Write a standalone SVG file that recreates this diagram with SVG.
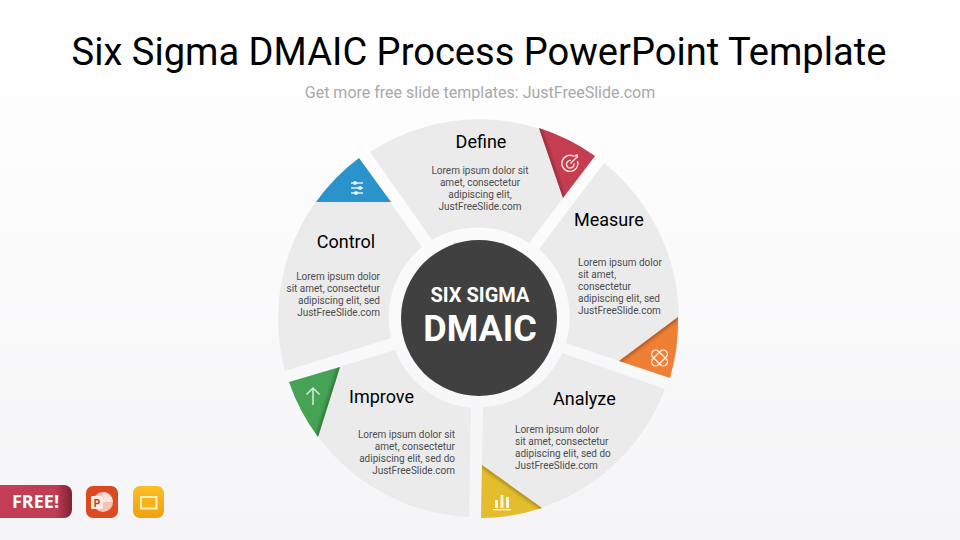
<svg xmlns="http://www.w3.org/2000/svg" width="960" height="540" viewBox="0 0 960 540">
<defs>
<linearGradient id="bg" x1="0" y1="0" x2="0" y2="1"><stop offset="0" stop-color="#ffffff"/><stop offset="0.35" stop-color="#fcfcfd"/><stop offset="1" stop-color="#f5f5f7"/></linearGradient>
<linearGradient id="free" x1="0" y1="0" x2="1" y2="0"><stop offset="0" stop-color="#c43f55"/><stop offset="0.8" stop-color="#c03c52"/><stop offset="1" stop-color="#7e2233"/></linearGradient>
<linearGradient id="slides" x1="0" y1="0" x2="0" y2="1"><stop offset="0" stop-color="#fbbf24"/><stop offset="1" stop-color="#f29f12"/></linearGradient>
<filter id="soft" x="-30%" y="-30%" width="160%" height="160%"><feGaussianBlur stdDeviation="1.5"/></filter>
<clipPath id="cRed"><path d="M539,128A200,200 0 0 1 595,156L563,198Z"/></clipPath>
<clipPath id="cOrange"><path d="M678,317A200,200 0 0 1 670,378L619,361Z"/></clipPath>
<clipPath id="cYellow"><path d="M482,465L542,508A200,200 0 0 1 481,518Z"/></clipPath>
<clipPath id="cGreen"><path d="M340,367L289,382A200,200 0 0 0 318,437Z"/></clipPath>
<clipPath id="cBlue"><path d="M359,158L391,202H316A200,200 0 0 1 359,158Z"/></clipPath>
</defs>
<style>
text{font-family:Roboto,"Liberation Sans",sans-serif}
.seg{fill:#ebebec}
.h{font-size:18px;fill:#000}
.b{font-size:10px;fill:#4d4d4d}
.m{text-anchor:middle}.e{text-anchor:end}
.edge{fill:none;stroke-width:5;stroke-opacity:.55;filter:url(#soft)}
.ic{fill:none;stroke:#fff;stroke-opacity:.85;stroke-width:1.400}
</style>
<rect width="960" height="540" fill="url(#bg)"/>
<text x="479" y="65" class="m" font-size="38.100" fill="#000" id="title">Six Sigma DMAIC Process PowerPoint Template</text>
<text x="480" y="98" class="m" font-size="16" fill="#a9a9a9">Get more free slide templates: JustFreeSlide.com</text>

<g id="define">
<path class="seg" d="M370,152A200,200 0 0 1 595,156L529,243A91,91 0 0 0 432,240Z"/>
<path d="M539,128A200,200 0 0 1 595,156L563,198Z" fill="#c53e50"/>
<path class="edge" clip-path="url(#cRed)" d="M539,128L563,198" stroke="#7a1f2e"/>
<g class="ic"><path d="M574,156.500A8,8 0 1 0 577.500,161"/><path d="M571,160.500A3.800,3.800 0 1 0 574,163.500"/><path d="M570.500,163.500L576,158M574.500,156L577,155L577.500,157L576,158"/></g>
<text class="h m" x="481" y="148">Define</text>
<g class="b m"><text x="480" y="174">Lorem ipsum dolor sit</text><text x="480" y="186">amet, consectetur</text><text x="480" y="198">adipiscing elit,</text><text x="480" y="210">JustFreeSlide.com</text></g>
</g>

<g id="measure">
<path class="seg" d="M604,163A200,200 0 0 1 670,378L566,343A91,91 0 0 0 539,249Z"/>
<path d="M678,317A200,200 0 0 1 670,378L619,361Z" fill="#ee7f35"/>
<path class="edge" clip-path="url(#cOrange)" d="M678,317L619,361" stroke="#8a4515"/>
<g class="ic"><rect x="650" y="354" width="19" height="8" rx="4" transform="rotate(45 659.500 358)"/><rect x="650" y="354" width="19" height="8" rx="4" transform="rotate(-45 659.500 358)"/></g>
<text class="h" x="574" y="226">Measure</text>
<g class="b"><text x="578" y="266">Lorem ipsum dolor</text><text x="578" y="278">sit amet,</text><text x="578" y="290">consectetur</text><text x="578" y="302">adipiscing elit, sed</text><text x="578" y="314">JustFreeSlide.com</text></g>
</g>

<g id="analyze">
<path class="seg" d="M665,389A200,200 0 0 1 481,518L483,407A91,91 0 0 0 562,353Z"/>
<path d="M482,465L542,508A200,200 0 0 1 481,518Z" fill="#e3bd2e"/>
<path class="edge" clip-path="url(#cYellow)" d="M482,465L542,508" stroke="#8a7010"/>
<g fill="#fff" fill-opacity=".85"><rect x="495" y="500" width="3" height="8"/><rect x="500.500" y="495" width="3" height="13"/><rect x="506" y="497" width="3" height="11"/><rect x="493" y="509" width="18" height="1.300"/></g>
<text class="h" x="553" y="405">Analyze</text>
<g class="b"><text x="515" y="433">Lorem ipsum dolor</text><text x="515" y="445">sit amet, consectetur</text><text x="515" y="457">adipiscing elit, sed do</text><text x="515" y="469">JustFreeSlide.com</text></g>
</g>

<g id="improve">
<path class="seg" d="M395,350L289,382A200,200 0 0 0 469,517L471,408A91,91 0 0 1 395,350Z"/>
<path d="M340,367L289,382A200,200 0 0 0 318,437Z" fill="#46a254"/>
<path class="edge" clip-path="url(#cGreen)" d="M340,367L318,437" stroke="#1d5a2a"/>
<path class="ic" d="M313,405V388M306.500,394.500L313,388L319.500,394.500"/>
<text class="h" x="349" y="403">Improve</text>
<g class="b e"><text x="455" y="438">Lorem ipsum dolor sit</text><text x="455" y="450">amet, consectetur</text><text x="455" y="462">adipiscing elit, sed do</text><text x="455" y="474">JustFreeSlide.com</text></g>
</g>

<g id="control">
<path class="seg" d="M422,247L359,158A200,200 0 0 0 285,371L391,338A91,91 0 0 1 422,247Z"/>
<path d="M359,158L391,202H316A200,200 0 0 1 359,158Z" fill="#2a93cb"/>
<path class="edge" clip-path="url(#cBlue)" d="M314,202H393" stroke="#0f3f5e"/>
<g class="ic" stroke-width="1.500"><path d="M351,183H363M351,188H363M351,193H363"/><circle cx="355" cy="183" r="1.200"/><circle cx="360" cy="188" r="1.200"/><circle cx="356" cy="193" r="1.200"/></g>
<text class="h m" x="346" y="248">Control</text>
<g class="b e"><text x="380" y="280">Lorem ipsum dolor</text><text x="380" y="292">sit amet, consectetur</text><text x="380" y="304">adipiscing elit, sed</text><text x="380" y="316">JustFreeSlide.com</text></g>
</g>

<g id="center">
<circle cx="479" cy="318" r="78" fill="#404040"/>
<text x="480" y="302" class="m" font-size="20" font-weight="700" fill="#fff">SIX SIGMA</text>
<text x="480" y="341" class="m" font-size="36" font-weight="700" fill="#fff">DMAIC</text>
</g>

<g id="badge">
<rect x="-10" y="485" width="82" height="33" rx="8" fill="url(#free)"/>
<text x="35.500" y="508" class="m" font-size="18" font-weight="700" fill="#fff" style="font-family:'Open Sans',Roboto,sans-serif">FREE!</text>
</g>
<g id="ppt">
<rect x="86" y="486" width="32" height="32" rx="7" fill="#dc4a21"/>
<circle cx="103" cy="502" r="10" fill="#f6c3b4"/>
<path d="M103,502V492A10,10 0 0 1 113,502Z" fill="#fbe3dc"/>
<rect x="91" y="496" width="12" height="13" rx="1.500" fill="#fdece6"/>
<text x="97" y="506.500" class="m" font-size="10" font-weight="700" fill="#c23b17">P</text>
</g>
<g id="slides">
<rect x="133" y="486" width="31" height="32" rx="7" fill="url(#slides)"/>
<rect x="141" y="497" width="15.500" height="11.500" fill="#f7b21c" stroke="#fff0b8" stroke-width="2"/>
</g>
</svg>
